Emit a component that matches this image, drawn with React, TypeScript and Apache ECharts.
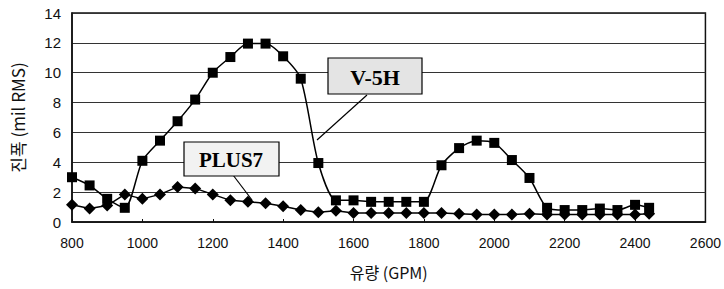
import React, { useEffect, useRef } from "react";
import * as echarts from "echarts";

const flowGPM = [800, 850, 900, 950, 1000, 1050, 1100, 1150, 1200, 1250, 1300, 1350, 1400, 1450, 1500, 1550, 1600, 1650, 1700, 1750, 1800, 1850, 1900, 1950, 2000, 2050, 2100, 2150, 2200, 2250, 2300, 2350, 2400, 2440];
const v5hValues = [3.0, 2.45, 1.55, 0.95, 4.1, 5.45, 6.75, 8.2, 10.0, 11.05, 11.95, 11.95, 11.1, 9.6, 3.95, 1.45, 1.45, 1.35, 1.35, 1.35, 1.35, 3.8, 4.95, 5.45, 5.3, 4.15, 2.95, 0.95, 0.8, 0.8, 0.9, 0.8, 1.15, 0.95];
const plus7Values = [1.15, 0.9, 1.1, 1.85, 1.55, 1.85, 2.35, 2.25, 1.85, 1.45, 1.35, 1.25, 1.05, 0.8, 0.65, 0.75, 0.6, 0.6, 0.6, 0.6, 0.6, 0.6, 0.55, 0.5, 0.5, 0.5, 0.55, 0.5, 0.5, 0.5, 0.5, 0.5, 0.5, 0.55];
const seriesNames = ["V-5H", "PLUS7"];
const xAxisTitle = "유량 (GPM)";
const yAxisTitle = "진폭 (mil RMS)";

export default function App() {
  const ref = useRef<HTMLDivElement>(null);
  useEffect(() => {
    if (!ref.current) return;
    const chart = echarts.init(ref.current, undefined, { renderer: "svg" });
    const sans = "'Liberation Sans', Arial, sans-serif";
    const serif = "'Liberation Serif', 'DejaVu Serif', serif";
    chart.setOption({
      animation: false,
      backgroundColor: "#ffffff",
      grid: { left: 72, right: 18, top: 13, bottom: 67, show: true, borderColor: "#111", borderWidth: 1.5 },
      xAxis: {
        type: "value",
        min: 800,
        max: 2600,
        interval: 200,
        name: xAxisTitle,
        nameLocation: "middle",
        nameGap: 42,
        nameTextStyle: { fontFamily: "'Noto Sans CJK KR', sans-serif", fontSize: 16, color: "#111" },
        axisLine: { show: true, lineStyle: { color: "#111", width: 1.5 } },
        axisTick: { show: true, inside: true, length: 3, lineStyle: { color: "#111" } },
        axisLabel: { fontFamily: sans, fontSize: 14, color: "#111", margin: 14, formatter: (v: number) => String(v) },
        splitLine: { show: false },
      },
      yAxis: {
        type: "value",
        min: 0,
        max: 14,
        interval: 2,
        name: yAxisTitle,
        nameLocation: "middle",
        nameGap: 46,
        nameRotate: 90,
        nameTextStyle: { fontFamily: "'Noto Sans CJK KR', sans-serif", fontSize: 17, color: "#111" },
        axisLine: { show: true, lineStyle: { color: "#111", width: 1.5 } },
        axisTick: { show: false },
        axisLabel: { fontFamily: sans, fontSize: 15, color: "#111", margin: 11 },
        splitLine: { show: true, lineStyle: { color: "#333", width: 1 } },
      },
      series: [
        {
          name: seriesNames[0],
          type: "line",
          smooth: 0.25,
          data: flowGPM.map((x, i) => [x, v5hValues[i]]),
          symbol: "rect",
          symbolSize: 10,
          itemStyle: { color: "#000" },
          lineStyle: { color: "#000", width: 1.5 },
          z: 3,
        },
        {
          name: seriesNames[1],
          type: "line",
          data: flowGPM.map((x, i) => [x, plus7Values[i]]),
          symbol: "diamond",
          symbolSize: 12,
          itemStyle: { color: "#000" },
          lineStyle: { color: "#000", width: 1.5 },
          z: 4,
        },
      ],
      graphic: [
        { type: "line", shape: { x1: 367, y1: 95, x2: 317, y2: 140 }, style: { stroke: "#000", lineWidth: 1.2 }, z: 10 },
        { type: "rect", shape: { x: 328, y: 58, width: 94, height: 36 }, style: { fill: "#e4e4e4", stroke: "#000", lineWidth: 1.2 }, z: 11 },
        { type: "text", x: 375, y: 77, style: { text: seriesNames[0], fontFamily: serif, fontWeight: "bold", fontSize: 22, fill: "#000", align: "center", verticalAlign: "middle" }, z: 12 },
        { type: "line", shape: { x1: 233, y1: 175, x2: 252, y2: 200 }, style: { stroke: "#000", lineWidth: 1.2 }, z: 10 },
        { type: "rect", shape: { x: 184, y: 142, width: 95, height: 34 }, style: { fill: "#f2f2f2", stroke: "#000", lineWidth: 1.2 }, z: 11 },
        { type: "text", x: 231, y: 160, style: { text: seriesNames[1], fontFamily: serif, fontWeight: "bold", fontSize: 21, fill: "#000", align: "center", verticalAlign: "middle" }, z: 12 },
      ],
    });
    return () => chart.dispose();
  }, []);
  return <div ref={ref} style={{ width: 724, height: 289, position: "absolute", left: 0, top: 0 }} />;
}
